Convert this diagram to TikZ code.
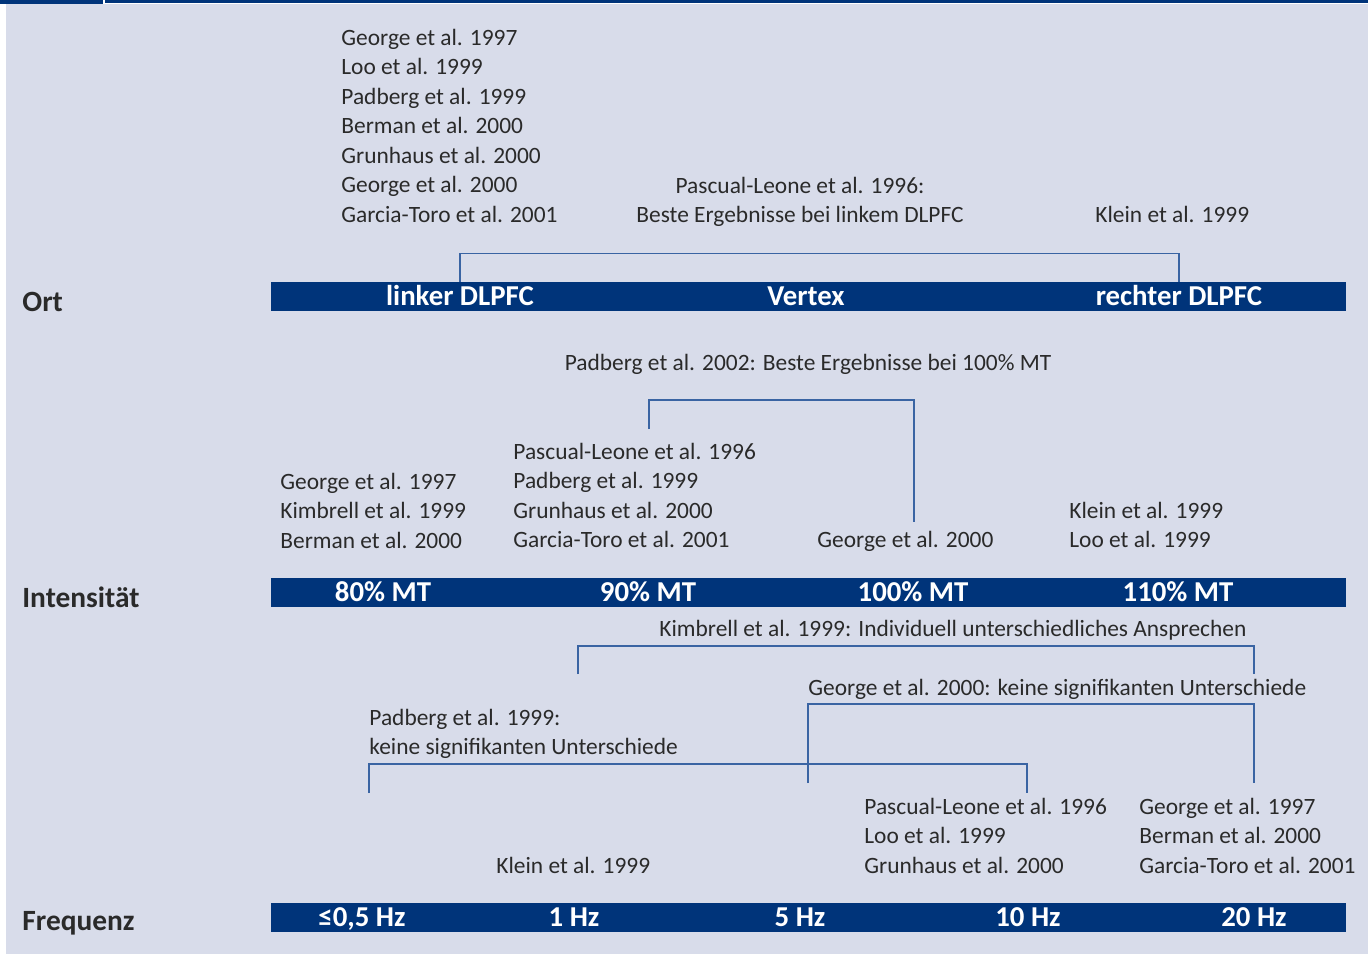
\documentclass[tikz,border=0pt]{standalone}
\usepackage{fontspec}
\setmainfont{Carlito}
\usetikzlibrary{positioning}
\definecolor{panel}{HTML}{D8DCEA}
\definecolor{barblue}{HTML}{00347A}
\definecolor{linkblue}{HTML}{3A64A3}
\definecolor{ink}{HTML}{2A2A2A}

\begin{document}
\begin{tikzpicture}[
    x=0.5pt, y=-0.5pt,
    node distance=132.5pt,
    on grid,
    ref/.style={anchor=north west, align=left, inner sep=0pt, text=ink,
        font=\fontsize{11.7}{14.75}\selectfont},
    refmid/.style={ref, anchor=north, align=center},
    rowlab/.style={anchor=base west, inner sep=0pt, text=ink,
        font=\fontsize{14.7}{16}\selectfont\bfseries},
    barlab/.style={inner xsep=0pt, inner ysep=0pt, minimum height=14.5pt,
        text height=9.2pt, text depth=0pt, text=white,
        font=\fontsize{14.4}{16}\selectfont\bfseries},
    link/.style={draw=linkblue, line width=0.7pt}
]
\useasboundingbox (0,0) rectangle (1368,954);

% Hintergrund und Kopfleiste
\fill[white] (0,0) rectangle (1368,954);
\fill[panel] (6,4) rectangle (1368,954);
\fill[barblue] (0,0) rectangle (103,4);
\fill[barblue] (105,0) rectangle (1368,2.5);

% Balken
\fill[barblue] (271,282) rectangle (1346,311);
\fill[barblue] (271,578) rectangle (1346,607);
\fill[barblue] (271,903) rectangle (1346,932);

% Zeilentitel
\node[rowlab] (ort) at (22,311) {Ort};
\node[rowlab] (int) at (22,607) {Intensität};
\node[rowlab] (freq) at (22,930) {Frequenz};

% Ort
\node[barlab] (ldl) at (460,296.5) {linker DLPFC};
\node[barlab] (vtx) at (806,296.5) {Vertex};
\node[barlab] (rdl) at (1179,296.5) {rechter DLPFC};

\node[ref] (refL) at (341,28.5) {George et al. 1997\\Loo et al. 1999\\Padberg et al. 1999\\Berman et al. 2000\\Grunhaus et al. 2000\\George et al. 2000\\Garcia-Toro et al. 2001};
\node[refmid] (pl96) at (800,176.5) {Pascual-Leone et al. 1996:\\Beste Ergebnisse bei linkem DLPFC};
\node[ref] (refR) at (1095,205.5) {Klein et al. 1999};

\draw[link] (ldl.north) -- ++(0,-28) -| (rdl.north);

% Intensitaet
\node[barlab] (i80) at (383,592.5) {80\% MT};
\node[barlab, right=of i80] (i90) {90\% MT};
\node[barlab, right=of i90] (i100) {100\% MT};
\node[barlab, right=of i100] (i110) {110\% MT};

\node[refmid] (pb02) at (808,353.5) {Padberg et al. 2002: Beste Ergebnisse bei 100\% MT};
\node[ref] (ref80) at (280,472.5) {George et al. 1997\\Kimbrell et al. 1999\\Berman et al. 2000};
\node[ref] (ref90) at (513,442.5) {Pascual-Leone et al. 1996\\Padberg et al. 1999\\Grunhaus et al. 2000\\Garcia-Toro et al. 2001};
\node[ref] (ref100) at (817,530.5) {George et al. 2000};
\node[ref] (ref110) at (1069,501.5) {Klein et al. 1999\\Loo et al. 1999};

\coordinate (c90) at (649,429);
\coordinate (c100) at (914,522);
\draw[link] (c90) -- ++(0,-29) -| (c100);

% Frequenz
\node[barlab] (f05) at (362,917.5) {≤0,5 Hz};
\node[barlab] (f1) at (574,917.5) {1 Hz};
\node[barlab] (f5) at (800,917.5) {5 Hz};
\node[barlab] (f10) at (1028,917.5) {10 Hz};
\node[barlab] (f20) at (1254,917.5) {20 Hz};

\node[ref] (kb99) at (659,619.5) {Kimbrell et al. 1999: Individuell unterschiedliches Ansprechen};
\node[ref] (ge00) at (808,678.5) {George et al. 2000: keine signifikanten Unterschiede};
\node[ref] (pb99) at (369,708.5) {Padberg et al. 1999:\\keine signifikanten Unterschiede};
\node[ref] (ref1) at (496,856.5) {Klein et al. 1999};
\node[ref] (ref10) at (864,797.5) {Pascual-Leone et al. 1996\\Loo et al. 1999\\Grunhaus et al. 2000};
\node[ref] (ref20) at (1139,797.5) {George et al. 1997\\Berman et al. 2000\\Garcia-Toro et al. 2001};

\coordinate (k1) at (578,674);
\coordinate (k20) at (1254,674);
\draw[link] (k1) -- ++(0,-28) -| (k20);

\coordinate (g5) at (808,783);
\coordinate (g20) at (1254,783);
\draw[link] (g5) -- ++(0,-79) -| (g20);

\coordinate (p05) at (369,793);
\coordinate (p10) at (1027,793);
\draw[link] (p05) -- ++(0,-29) -| (p10);

\end{tikzpicture}
\end{document}
